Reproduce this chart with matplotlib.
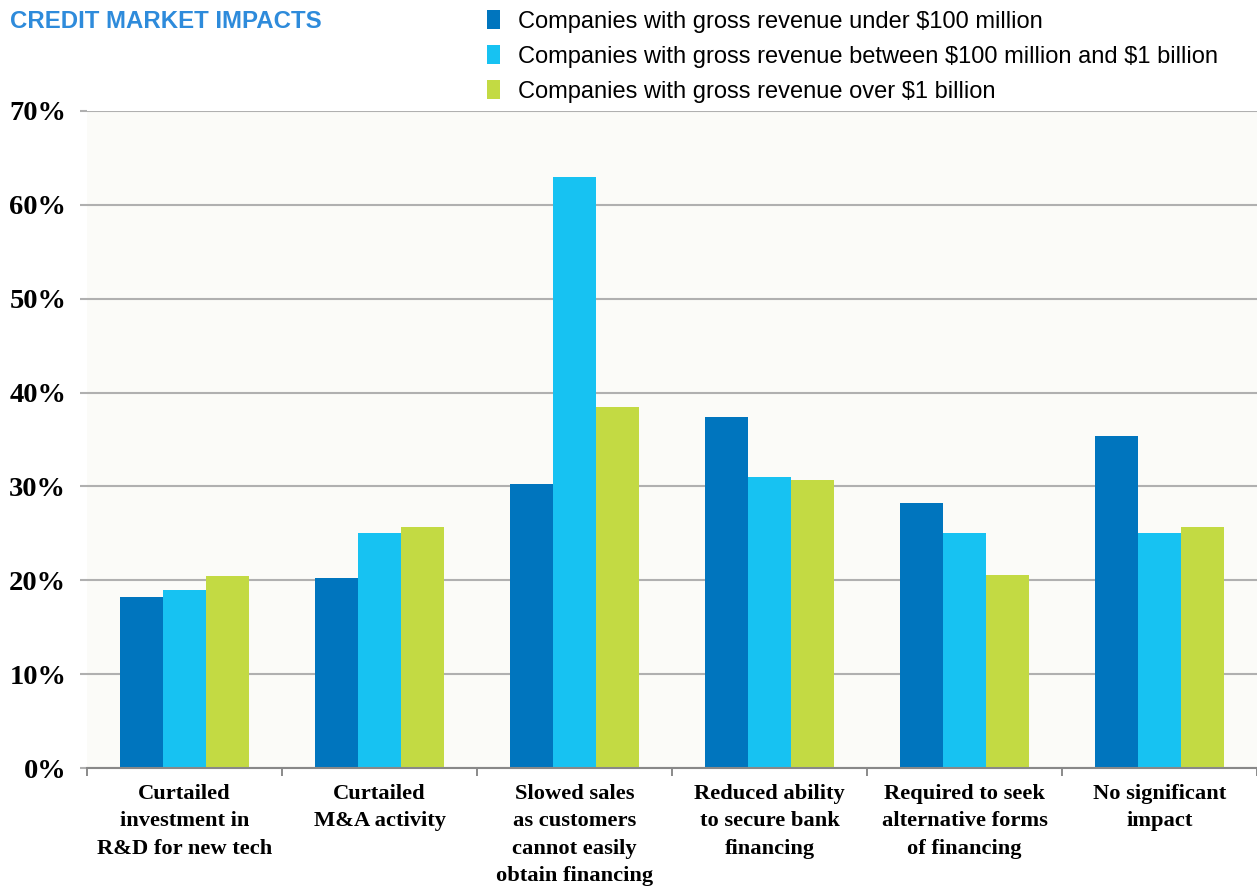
import numpy as np
import matplotlib
matplotlib.use("Agg")
import matplotlib.pyplot as plt
from matplotlib.ticker import FixedLocator, FuncFormatter

categories = [
    "Curtailed\ninvestment in\nR&D for new tech",
    "Curtailed\nM&A activity",
    "Slowed sales\nas customers\ncannot easily\nobtain financing",
    "Reduced ability\nto secure bank\nfinancing",
    "Required to seek\nalternative forms\nof financing",
    "No significant\nimpact",
]
series_names = [
    r"Companies with gross revenue under \$100 million",
    r"Companies with gross revenue between \$100 million and \$1 billion",
    r"Companies with gross revenue over \$1 billion",
]
under_100m = [18.2, 20.2, 30.3, 37.4, 28.2, 35.4]
between_100m_1b = [19.0, 25.0, 63.0, 31.0, 25.0, 25.0]
over_1b = [20.5, 25.7, 38.5, 30.7, 20.6, 25.7]
y_ticks = [0, 10, 20, 30, 40, 50, 60, 70]

colors = ["#0075BE", "#17C2F2", "#C3DA43"]
grid_color = "#B0B0B0"

W, H = 1257, 886
fig = plt.figure(figsize=(W / 100, H / 100), dpi=100)
fig.patch.set_facecolor("white")
ax = fig.add_axes([87 / W, 1 - 768 / H, (W - 87) / W, (768 - 111) / H])
ax.set_facecolor("#FBFBF8")

x = np.arange(len(categories))
bw = 0.222
for i, (vals, c, name) in enumerate(zip([under_100m, between_100m_1b, over_1b], colors, series_names)):
    ax.bar(x + (i - 1) * bw, vals, width=bw, color=c, label=name, zorder=3, linewidth=0)

ax.set_xlim(-0.5, len(categories) - 0.5)
ax.set_ylim(0, 70)

# horizontal gridlines with outward tick marks on the value axis
ax.yaxis.set_major_locator(FixedLocator(y_ticks))
ax.yaxis.set_major_formatter(FuncFormatter(lambda v, p: f"{int(v)}%"))
ax.grid(axis="y", color=grid_color, linewidth=1.5, zorder=1)
ax.tick_params(axis="y", length=5, width=1.5, color=grid_color, pad=10,
               labelsize=20.5)
for lbl in ax.get_yticklabels():
    lbl.set_fontfamily("Liberation Serif")
    lbl.set_fontweight("bold")

# category axis: labels at centres, small ticks at category boundaries
ax.set_xticks(x)
ax.set_xticklabels(categories, fontfamily="Liberation Serif", fontweight="bold",
                   fontsize=16.2, linespacing=1.5, va="top")
ax.tick_params(axis="x", length=0, pad=11.5)
ax.set_xticks(np.arange(-0.5, len(categories)), minor=True)
ax.tick_params(axis="x", which="minor", length=6, width=1.2, color="#777777")

for s in ["left", "right", "top"]:
    ax.spines[s].set_visible(False)
ax.spines["bottom"].set_color("#888888")
ax.spines["bottom"].set_linewidth(1.5)
ax.spines["bottom"].set_zorder(4)

fig.text(10 / W, 1 - 21 / H, "CREDIT MARKET IMPACTS", color="#2E8BDB",
         fontfamily="Liberation Sans", fontweight="bold", fontsize=17.3,
         va="center", ha="left")

leg = fig.legend(loc="upper left", bbox_to_anchor=(478 / W, 1 - 1 / H),
                 frameon=False, prop={"family": "Liberation Sans", "size": 17},
                 handlelength=0.52, handleheight=0.85, handletextpad=0.78,
                 labelspacing=0.52, borderaxespad=0)

fig.savefig("out.png", dpi=100)
